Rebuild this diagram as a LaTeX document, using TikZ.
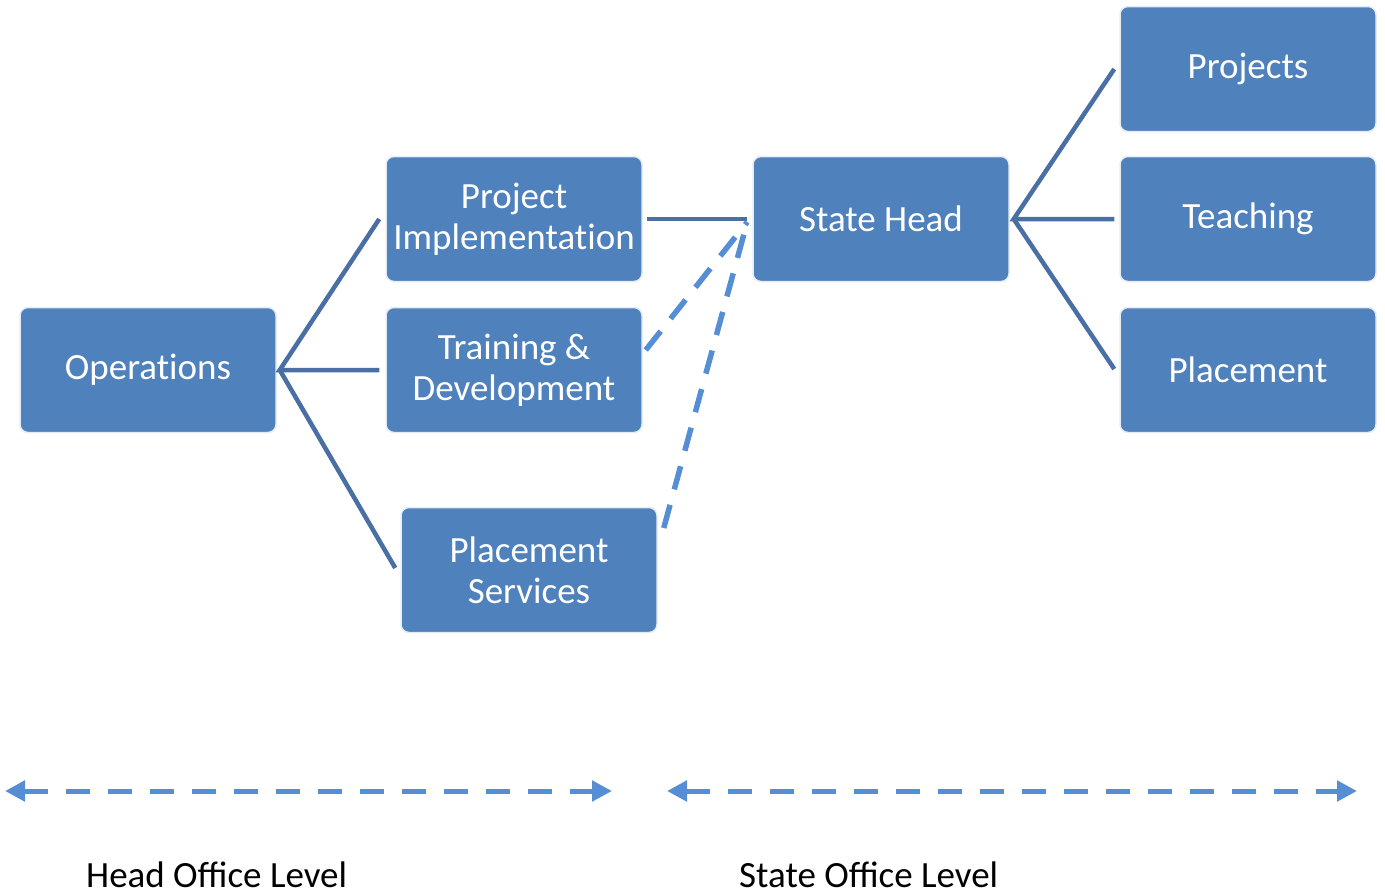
\documentclass[tikz,border=0pt]{standalone}
\usepackage{fontspec}
\setmainfont{Carlito}
\newfontfamily\boxfont[Ligatures={NoCommon}]{Carlito}
\usetikzlibrary{arrows.meta,calc}
\definecolor{boxblue}{HTML}{4F81BD}
\definecolor{linkblue}{HTML}{4A6FA5}
\definecolor{dashblue}{HTML}{558ED5}
\tikzset{
  box/.style={draw=white!85!boxblue, line width=1.5pt, fill=boxblue, rounded corners=8pt,
    minimum width=256pt, minimum height=125pt, text=white, align=center,
    font=\boxfont\fontsize{37}{41}\selectfont, inner sep=0pt},
  link/.style={draw=linkblue, line width=4.5pt},
  dlink/.style={draw=dashblue, line width=5.5pt, dash pattern=on 24pt off 16pt},
  levelarrow/.style={draw=dashblue, line width=5pt, dash pattern=on 24pt off 18pt,
    {Triangle[length=20pt,width=20pt]}-{Triangle[length=20pt,width=20pt]}},
  lvl/.style={font=\fontsize{37}{44}\selectfont, text=black, inner sep=0pt, anchor=base west}
}
\begin{document}
\begin{tikzpicture}[x=1pt,y=-1pt]
\useasboundingbox (0,0) rectangle (1385,894);
\node[box] (ops) at (148,370) {Operations};
\node[box] (pi) at (514,219) {Project\\Implementation};
\node[box] (td) at (514,370) {Training \&\\Development};
\node[box] (ps) at (529,570) {Placement\\Services};
\node[box] (sh) at (881,219) {State Head};
\node[box] (pr) at (1248,69) {Projects};
\node[box] (te) at (1248,219) {Teaching};
\node[box] (pl) at (1248,370) {Placement};

\coordinate (opsj) at ($(ops.east)+(3,0)$);
\coordinate (shj) at ($(sh.west)+(-5,0)$);
\coordinate (shr) at ($(sh.east)+(4,0)$);

\draw[link] ($(pi.west)+(-6,0)$) -- (opsj) -- ($(td.west)+(-6,0)$);
\draw[link] (opsj) -- ($(ps.west)+(-5,-2)$);
\draw[link] ($(pi.east)+(4,0)$) -- (shj);
\draw[link] ($(pr.west)+(-5,0)$) -- (shr) -- ($(te.west)+(-5,0)$);
\draw[link] (shr) -- ($(pl.west)+(-5,-1)$);

\draw[dlink] ($(td.east)+(3,-20)$) -- ($(shj)+(0,3)$);
\draw[dlink] ($(ps.east)+(6,-42)$) -- ($(shj)+(0,3)$);

\coordinate (a1) at (5,791);
\coordinate (a2) at (612,791);
\coordinate (a3) at (667,791);
\coordinate (a4) at (1357,791);
\draw[levelarrow] (a1) -- (a2);
\draw[levelarrow] (a3) -- (a4);

\node[lvl] (hol) at (86,887) {Head Office Level};
\node[lvl] (sol) at (739,887) {State Office Level};
\end{tikzpicture}
\end{document}
